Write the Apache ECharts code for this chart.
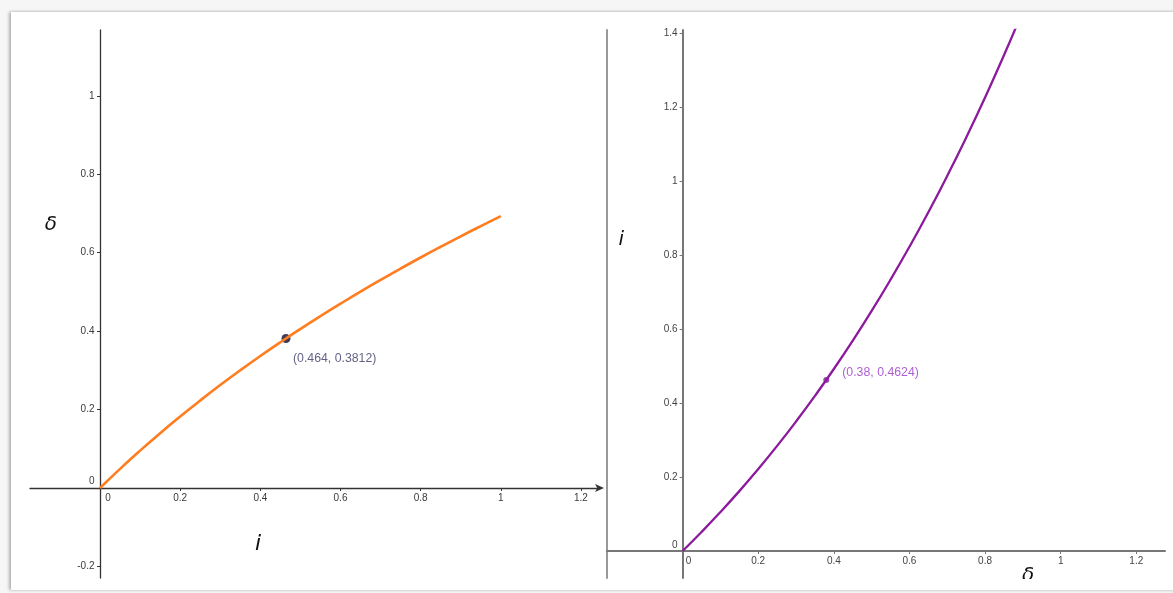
<!DOCTYPE html>
<html><head><meta charset="utf-8">
<script src="https://cdn.jsdelivr.net/npm/echarts@6/dist/echarts.min.js"></script>
<style>
html,body{margin:0;padding:0;background:#f6f6f6;overflow:hidden;}
#frame{position:absolute;left:11px;top:12px;width:1170px;height:578px;background:#fff;box-shadow:-2px 0 3px rgba(0,0,0,0.28),0 -1px 2px rgba(0,0,0,0.06);}
#chart{position:absolute;left:0;top:0;width:1173px;height:593px;}
#cut{position:absolute;left:11px;top:579px;width:1162px;height:11px;background:#fff;}
</style></head>
<body><div id="frame"></div><div id="chart"></div><div id="cut"></div>
<script>
// Left panel: delta as a function of i
const leftI     = [0, 0.05, 0.1, 0.15, 0.2, 0.25, 0.3, 0.35, 0.4, 0.45, 0.5, 0.55, 0.6, 0.65, 0.7, 0.75, 0.8, 0.85, 0.9, 0.95, 1.0];
const leftDelta = [0, 0.0488, 0.0953, 0.1398, 0.1823, 0.2231, 0.2624, 0.3001, 0.3365, 0.3716, 0.4055, 0.4383, 0.47, 0.5008, 0.5306, 0.5596, 0.5878, 0.6152, 0.6419, 0.6678, 0.6931];
// Right panel: i as a function of delta
const rightDelta = [0, 0.05, 0.1, 0.15, 0.2, 0.25, 0.3, 0.35, 0.4, 0.45, 0.5, 0.55, 0.6, 0.65, 0.7, 0.75, 0.8, 0.85, 0.9];
const rightI     = [0, 0.0513, 0.1052, 0.1618, 0.2214, 0.284, 0.3499, 0.4191, 0.4918, 0.5683, 0.6487, 0.7333, 0.8221, 0.9155, 1.0138, 1.117, 1.2255, 1.3396, 1.4596];
// Marked points
const leftPoint  = [0.464, 0.3812];
const rightPoint = [0.38, 0.4624];
// Tick labels
const leftXTicks  = [0, 0.2, 0.4, 0.6, 0.8, 1, 1.2];
const leftYTicks  = [-0.2, 0, 0.2, 0.4, 0.6, 0.8, 1];
const rightXTicks = [0, 0.2, 0.4, 0.6, 0.8, 1, 1.2];
const rightYTicks = [0, 0.2, 0.4, 0.6, 0.8, 1, 1.2, 1.4];
// Axis titles
const leftXName = 'i', leftYName = 'δ', rightXName = 'δ', rightYName = 'i';

const FONT = '"Liberation Sans", Arial, sans-serif';
const TITLE_FONT = '"DejaVu Sans", sans-serif';
const TICK_SIZE = 10;

function zeroFmt(tag) { return v => (v === 0 ? '{' + tag + '|0}' : String(v)); }

function mkAxisLabel(color, tag, pad, margin, ticks) {
  const rich = {}; rich[tag] = { fontSize: TICK_SIZE, color: color, fontFamily: FONT, padding: pad };
  return { customValues: ticks, fontSize: TICK_SIZE, color: color, fontFamily: FONT, margin: margin, formatter: zeroFmt(tag), rich: rich };
}
function mkName(text, size, pad) {
  return {
    name: '{t|' + text + '}',
    nameTextStyle: { rich: { t: { fontSize: size, fontStyle: 'italic', fontFamily: TITLE_FONT, color: '#111', padding: pad } } }
  };
}

const leftAxisColor = '#333';
const rightAxisColor = '#777';

// Left grid: x from -0.1747 to 1.2475 over 570px, y from -0.2296 to 1.168 over 548px
const xAxisL = Object.assign({
  type: 'value', gridIndex: 0, min: -0.1747, max: 1.2475,
  axisLine: { onZero: true, lineStyle: { color: leftAxisColor, width: 1.3 }, symbol: ['none', 'arrow'], symbolSize: [6, 9], symbolOffset: [0, 4] },
  axisTick: { show: true, length: 3, customValues: leftXTicks, lineStyle: { color: leftAxisColor } },
  axisLabel: mkAxisLabel('#3a3a3a', 'zx', [0, 0, 0, 16], -85, leftXTicks),
  splitLine: { show: false },
  nameLocation: 'middle', nameGap: -45, nameMoveOverlap: false
}, mkName(leftXName, 22, [0, 114, 0, 0]));
const yAxisL = Object.assign({
  type: 'value', gridIndex: 0, min: -0.2296, max: 1.168,
  axisLine: { onZero: true, lineStyle: { color: leftAxisColor, width: 1.3 } },
  axisTick: { show: true, length: 3, customValues: leftYTicks, lineStyle: { color: leftAxisColor } },
  axisLabel: mkAxisLabel('#3a3a3a', 'zy', [0, 0, 14, 0], -64.5, leftYTicks),
  splitLine: { show: false },
  nameLocation: 'middle', nameRotate: 0, nameGap: -27, nameMoveOverlap: false
}, mkName(leftYName, 20, [0, 0, 158, 0]));
// Right grid: x from -0.2 to 1.276 over 558px, y from -0.073 to 1.408 over 548px
const xAxisR = Object.assign({
  type: 'value', gridIndex: 1, min: -0.2, max: 1.276,
  axisLine: { onZero: true, lineStyle: { color: rightAxisColor, width: 2 } },
  axisTick: { show: true, length: 3, customValues: rightXTicks, lineStyle: { color: rightAxisColor } },
  axisLabel: mkAxisLabel('#444', 'rx', [0, 0, 0, 12], -21.5, rightXTicks),
  splitLine: { show: false },
  nameLocation: 'middle', nameGap: -12, nameMoveOverlap: false
}, mkName(rightXName, 20, [0, 0, 0, 284]));
const yAxisR = Object.assign({
  type: 'value', gridIndex: 1, min: -0.073, max: 1.408,
  axisLine: { onZero: true, lineStyle: { color: rightAxisColor, width: 2 } },
  axisTick: { show: true, length: 3, customValues: rightYTicks, lineStyle: { color: rightAxisColor } },
  axisLabel: mkAxisLabel('#444', 'ry', [0, 0, 12, 0], -70.6, rightYTicks),
  splitLine: { show: false },
  nameLocation: 'middle', nameRotate: 0, nameGap: -17, nameMoveOverlap: false
}, mkName(rightYName, 20, [0, 0, 128, 0]));
const yAxisRBorder = {
  type: 'value', gridIndex: 1, min: -0.073, max: 1.408, position: 'left',
  axisLine: { show: true, onZero: false, lineStyle: { color: '#999', width: 2 } },
  axisTick: { show: false }, axisLabel: { show: false }, splitLine: { show: false }
};

const chart = echarts.init(document.getElementById('chart'), null, { renderer: 'canvas' });
chart.setOption({
  backgroundColor: 'transparent',
  animation: false,
  grid: [
    { left: 30, top: 30, width: 570, height: 548, outerBoundsMode: 'none', containLabel: false },
    { left: 607, top: 30, width: 558, height: 548, outerBoundsMode: 'none', containLabel: false }
  ],
  xAxis: [xAxisL, xAxisR],
  yAxis: [yAxisL, yAxisR, yAxisRBorder],
  series: [
    {
      type: 'line', xAxisIndex: 0, yAxisIndex: 0, smooth: true, showSymbol: false, clip: true,
      lineStyle: { color: '#ff7c1f', width: 2.6 },
      data: leftI.map((x, k) => [x, leftDelta[k]])
    },
    {
      type: 'scatter', xAxisIndex: 0, yAxisIndex: 0, symbolSize: 9,
      itemStyle: { color: '#0c0c2e' },
      label: { show: true, position: 'right', distance: 2.5, offset: [0, 20.5], fontSize: 12.3, fontFamily: FONT, color: '#3a3a66',
        formatter: p => '(' + p.value[0] + ', ' + p.value[1] + ')' },
      data: [leftPoint]
    },
    {
      type: 'line', xAxisIndex: 1, yAxisIndex: 1, smooth: true, showSymbol: false, clip: true,
      lineStyle: { color: '#8c1a9c', width: 2.3 },
      data: rightDelta.map((x, k) => [x, rightI[k]])
    },
    {
      type: 'scatter', xAxisIndex: 1, yAxisIndex: 1, symbolSize: 6,
      itemStyle: { color: '#7a1a9a' },
      label: { show: true, position: 'right', distance: 13, offset: [0, -7.7], fontSize: 12.3, fontFamily: FONT, color: '#9a36c8',
        formatter: p => '(' + p.value[0] + ', ' + p.value[1] + ')' },
      data: [rightPoint]
    }
  ]
});
</script>
</body></html>
